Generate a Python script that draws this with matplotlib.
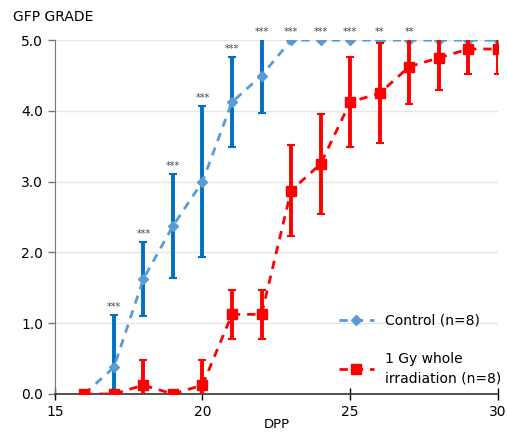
import numpy as np
import matplotlib
matplotlib.use('Agg')
import matplotlib.pyplot as plt

# days post partum
dpp = [16, 17, 18, 19, 20, 21, 22, 23, 24, 25, 26, 27, 28, 29, 30]

# control group
ctrl_mean = [0, 0.375, 1.625, 2.375, 3.0, 4.125, 4.5, 5, 5, 5, 5, 5, 5, 5, 5]
ctrl_err = [0, 0.745, 0.52, 0.74, 1.07, 0.64, 0.53, 0, 0, 0, 0, 0, 0, 0, 0]

# 1 Gy whole irradiation group
irr_mean = [0, 0, 0.125, 0, 0.125, 1.125, 1.125, 2.875, 3.25, 4.125, 4.25, 4.625, 4.75, 4.875, 4.875]
irr_err = [0, 0, 0.35, 0, 0.35, 0.35, 0.35, 0.64, 0.71, 0.64, 0.71, 0.52, 0.46, 0.35, 0.35]

# significance marks
sig = ['', '***', '***', '***', '***', '***', '***', '***', '***', '***', '**', '**', '', '', '']

fig = plt.figure(figsize=(5.07, 4.32), dpi=100)
ax = fig.add_axes([0.108, 0.088, 0.874, 0.819])

ax.grid(axis='y', color='#e6e6e6', lw=1)
ax.set_axisbelow(True)

# control error bars (dark blue), then light blue dashed line
ax.errorbar(dpp, ctrl_mean, yerr=ctrl_err, fmt='none', ecolor='#0070c0',
            elinewidth=2.8, capsize=3, capthick=1.5, zorder=3)
ax.plot(dpp, ctrl_mean, color='#5b9bd5', ls=(0, (3, 2.5)), lw=2,
        marker='D', ms=5, label='Control (n=8)', zorder=4)

ax.errorbar(dpp, irr_mean, yerr=irr_err, fmt='none', ecolor='#ff0000',
            elinewidth=2.8, capsize=3, capthick=1.5, zorder=5)
ax.plot(dpp, irr_mean, color='#ff0000', ls=(0, (3, 2.5)), lw=2,
        marker='s', ms=7, label='1 Gy whole\nirradiation (n=8)', zorder=6)

for x, m, e, s in zip(dpp, ctrl_mean, ctrl_err, sig):
    if s:
        ax.text(x, min(m + e, 5) + 0.04, s, ha='center', va='bottom',
                fontsize=7, color='#444444', clip_on=False)

ax.set_xlim(15, 30)
ax.set_ylim(0, 5)
ax.set_xticks([15, 20, 25, 30])
ax.set_yticks([0, 1, 2, 3, 4, 5])
ax.set_yticklabels(['%.1f' % v for v in [0, 1, 2, 3, 4, 5]])
ax.tick_params(axis='x', direction='inout', length=8, width=1, labelsize=10, pad=4)
ax.tick_params(axis='y', direction='out', length=5, width=1, color='#777777', labelsize=10)

for side in ['top', 'right']:
    ax.spines[side].set_visible(False)
ax.spines['left'].set_color('#777777')
ax.spines['bottom'].set_color('#333333')
ax.spines['bottom'].set_linewidth(1.2)

ax.text(-0.095, 1.045, 'GFP GRADE', transform=ax.transAxes, fontsize=10, ha='left', va='bottom')
ax.set_xlabel('DPP', fontsize=9.5, va='top')
ax.xaxis.set_label_coords(0.5, -0.068)

leg = ax.legend(loc='lower right', bbox_to_anchor=(1.035, -0.01), frameon=False,
                fontsize=10, labelspacing=1.7, handlelength=2.5)
for t in leg.get_texts():
    t.set_linespacing(1.5)

plt.savefig('out.png', dpi=100)
